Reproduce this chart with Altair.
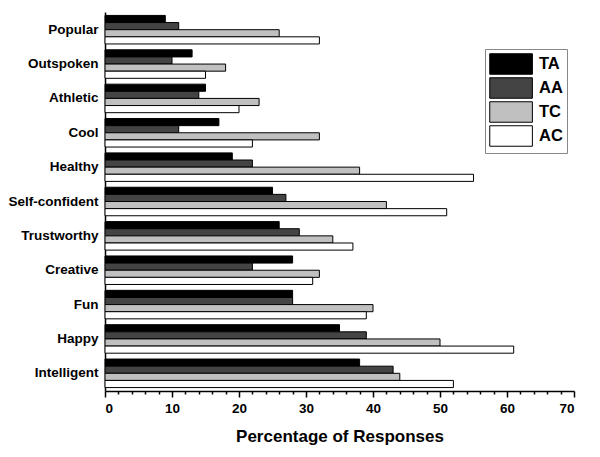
import altair as alt
import pandas as pd

categories = ["Popular", "Outspoken", "Athletic", "Cool", "Healthy", "Self-confident",
              "Trustworthy", "Creative", "Fun", "Happy", "Intelligent"]
series = ["TA", "AA", "TC", "AC"]
TA = [9, 13, 15, 17, 19, 25, 26, 28, 28, 35, 38]
AA = [11, 10, 14, 11, 22, 27, 29, 22, 28, 39, 43]
TC = [26, 18, 23, 32, 38, 42, 34, 32, 40, 50, 44]
AC = [32, 15, 20, 22, 55, 51, 37, 31, 39, 61, 52]
colors = ["#000000", "#444444", "#c0c0c0", "#ffffff"]
x_ticks = list(range(0, 72, 2))

rows = []
for s, vals in zip(series, [TA, AA, TC, AC]):
    for c, v in zip(categories, vals):
        rows.append({"cat": c, "series": s, "value": v})
df = pd.DataFrame(rows)

FONT = "Liberation Sans"

chart = alt.Chart(df).mark_bar(stroke="#000000", strokeWidth=1).encode(
    y=alt.Y("cat:N", sort=categories,
            scale=alt.Scale(paddingInner=0.17, paddingOuter=0.1),
            axis=alt.Axis(title=None, ticks=False, domain=True, domainColor="#000",
                          domainWidth=1.5, labelFont=FONT, labelFontWeight="bold",
                          labelFontSize=13.5, labelColor="#000", labelPadding=7)),
    yOffset=alt.YOffset("series:N", sort=series, scale=alt.Scale(paddingInner=0, paddingOuter=0)),
    x=alt.X("value:Q", scale=alt.Scale(domain=[0, 70], nice=False),
            axis=alt.Axis(title="Percentage of Responses", values=x_ticks,
                          labelExpr="datum.value % 10 === 0 ? datum.label : ''",
                          tickSize={"condition": {"test": "datum.value % 10 === 0", "value": 6}, "value": 3},
                          tickColor="#000", tickWidth=1.5, domainColor="#000", domainWidth=1.5,
                          labelFont=FONT, labelFontWeight="bold", labelFontSize=13.5, labelColor="#000",
                          labelPadding=4, grid=False,
                          titleFont=FONT, titleFontWeight="bold", titleFontSize=17,
                          titleColor="#000", titlePadding=14)),
    color=alt.Color("series:N", sort=series,
                    scale=alt.Scale(domain=series, range=colors),
                    legend=alt.Legend(title=None, orient="none", legendX=380, legendY=37,
                                      symbolType="M-1,-1H3.16V1H-1Z", symbolSize=420,
                                      symbolStrokeColor="#000", symbolStrokeWidth=1,
                                      symbolOpacity=1,
                                      labelFont=FONT, labelFontWeight="bold", labelFontSize=16.5,
                                      labelColor="#000", labelOffset=28, rowPadding=-3,
                                      strokeColor="#888", padding=4, fillColor="#fff")),
).properties(
    width=469, height=379,
    padding={"left": 0, "top": 4, "right": 5, "bottom": 5},
).configure_view(stroke=None)

chart.save("out.html", embed_options={"renderer": "svg", "actions": False})
